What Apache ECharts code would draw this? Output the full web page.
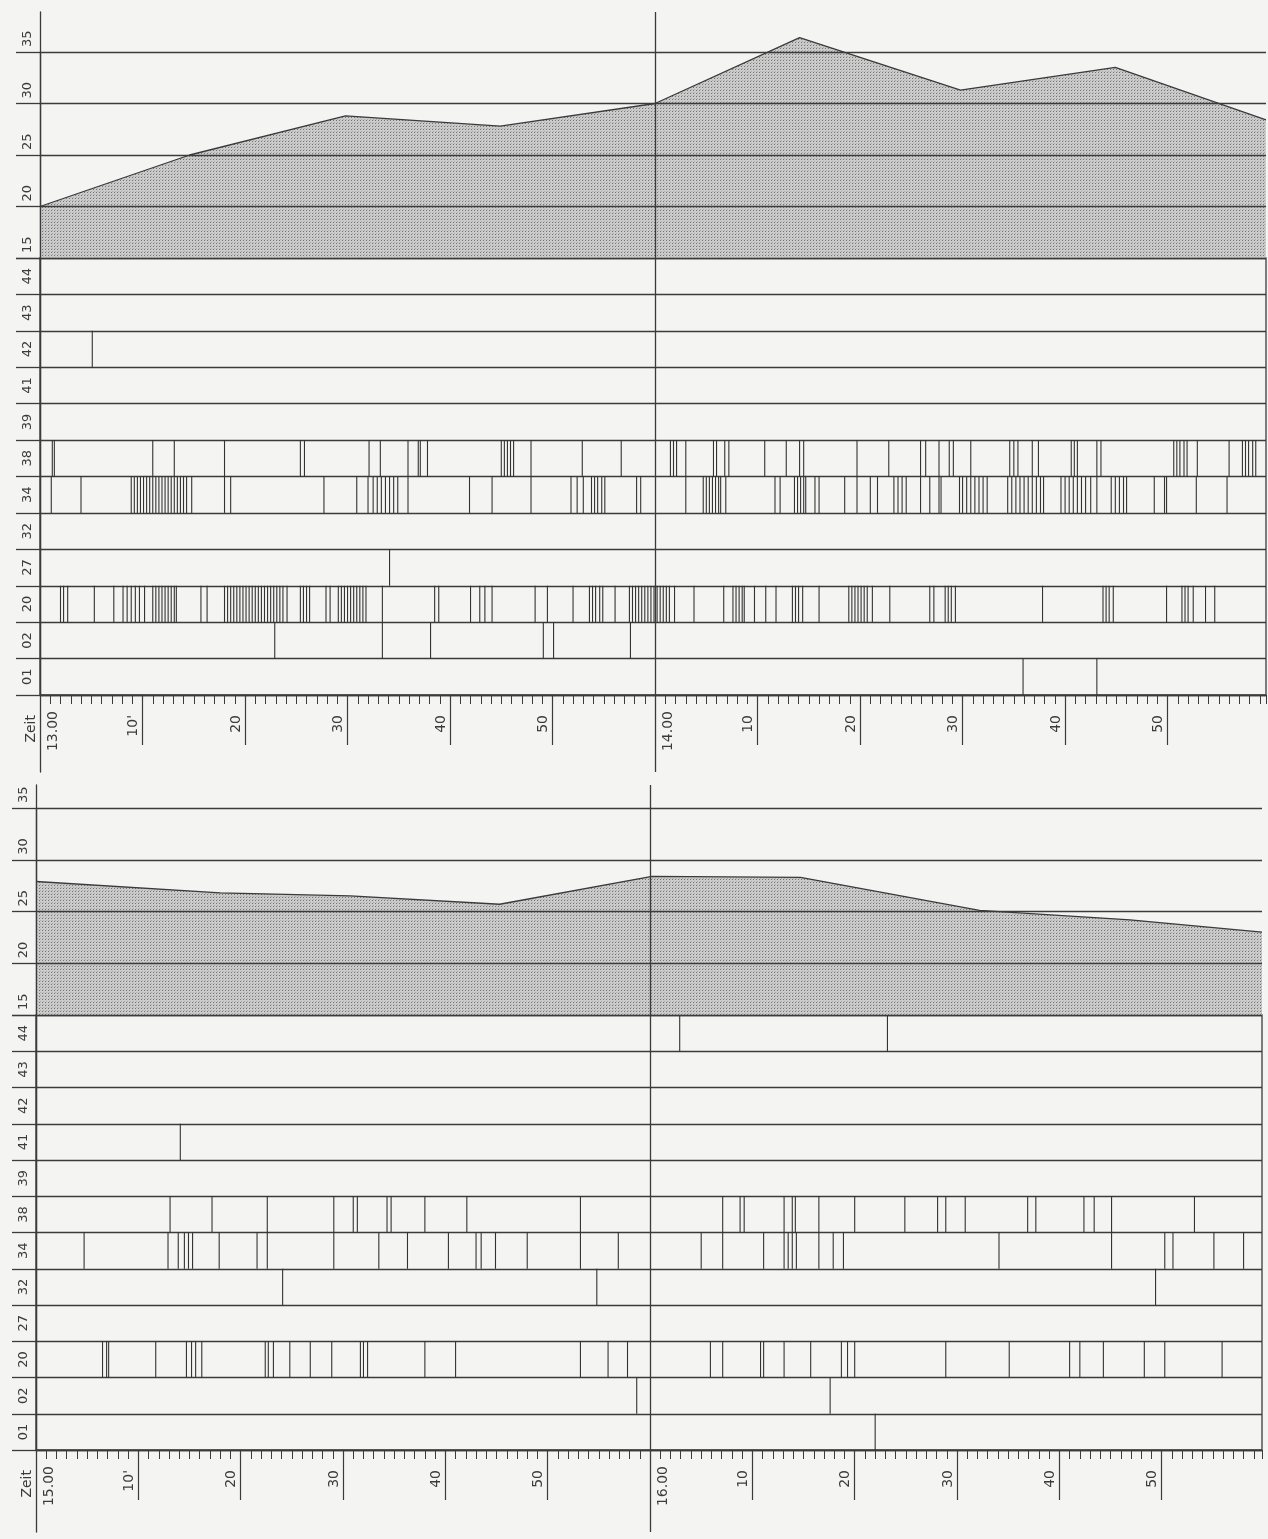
<!DOCTYPE html>
<html><head><meta charset="utf-8">
<script src="https://cdn.jsdelivr.net/npm/echarts@6.0.0/dist/echarts.min.js"></script>
<style>html,body{margin:0;padding:0;background:#f4f5f3;}#c{width:1268px;height:1539px;}</style>
</head><body><div id="c"></div>
<script>
// ---------- categories & tick labels ----------
const rowNames = ['01', '02', '20', '27', '32', '34', '38', '39', '41', '42', '43', '44'];
const tempTicks = [15, 20, 25, 30, 35];
const minuteValues = [10, 20, 30, 40, 50, 70, 80, 90, 100, 110];
const minuteLabels = ["10'", '20', '30', '40', '50', '10', '20', '30', '40', '50'];
const hourValues = [0, 60];
const topHourLabels = ['13.00', '14.00'];
const botHourLabels = ['15.00', '16.00'];
const zeitLabel = 'Zeit';

// ---------- temperature curves (minutes after panel start, value) ----------
const topTempTimes = [0, 14.6, 29.8, 44.9, 60, 74.1, 89.8, 104.9, 119.6];
const topTempValues = [20, 25, 28.8, 27.8, 30.0, 36.4, 31.3, 33.5, 28.4];
const botTempTimes = [0, 18.0, 30.7, 45.3, 60.2, 74.7, 92.2, 106.9, 119.8];
const botTempValues = [27.9, 26.8, 26.5, 25.7, 28.4, 28.3, 25.1, 24.2, 23.0];

// ---------- event marks, top panel (minutes after 13.00) ----------
const top44 = [];
const top43 = [];
const top42 = [5.1];
const top41 = [];
const top39 = [];
const top38 = [1.2, 1.4, 11.0, 13.1, 18.0, 25.4, 25.8, 32.1, 33.2, 35.9, 36.9, 37.1, 37.8, 45.0, 45.3, 45.6, 45.9, 46.2, 47.9, 52.9, 56.7,
  61.5, 61.8, 62.1, 63.0, 65.7, 66.0, 66.8, 67.2, 70.7, 72.8, 74.1, 74.5, 79.7, 82.8, 85.9, 86.4, 87.7, 88.7, 89.1, 90.8, 94.6, 95.0, 95.4,
  96.8, 97.4, 100.6, 100.9, 101.2, 103.1, 103.5, 110.6, 110.9, 111.2, 111.6, 111.9, 112.9, 116.0, 117.3, 117.6, 117.9, 118.3, 118.6];
const top34 = [1.1, 4.0, 8.9, 9.2, 9.5, 9.8, 10.1, 10.4, 10.7, 11.0, 11.3, 11.6, 11.9, 12.2, 12.5, 12.8, 13.1, 13.4, 13.7, 14.0, 14.3, 14.8,
  18.0, 18.6, 27.7, 30.9, 32.0, 32.5, 32.9, 33.3, 33.7, 34.1, 34.5, 34.9, 35.9, 41.9, 44.1, 47.9, 51.8, 52.4, 53.0, 53.8, 54.1, 54.4, 54.8,
  55.1, 58.2, 58.6, 63.0, 64.7, 65.0, 65.3, 65.6, 65.9, 66.2, 66.4, 66.9, 71.7, 72.2, 73.6, 73.9, 74.2, 74.5, 74.7, 75.6, 76.0, 78.5, 79.7,
  81.0, 81.7, 83.3, 83.7, 84.1, 84.5, 85.9, 86.8, 87.7, 87.9, 89.7, 90.0, 90.4, 90.8, 91.2, 91.6, 92.0, 92.4, 94.4, 94.8, 95.2, 95.6, 96.0,
  96.4, 96.8, 97.2, 97.6, 97.9, 99.6, 100.0, 100.4, 100.8, 101.2, 101.6, 102.0, 102.5, 103.1, 104.5, 104.9, 105.3, 105.7, 106.0, 108.7,
  109.7, 109.9, 112.8, 115.8];
const top32 = [];
const top27 = [34.1];
const top20 = [2.0, 2.3, 2.7, 5.3, 7.2, 8.1, 8.5, 8.9, 9.3, 9.7, 10.2, 11.0, 11.3, 11.6, 11.9, 12.2, 12.5, 12.8, 13.1, 13.3, 15.7, 16.3,
  18.0, 18.3, 18.6, 18.9, 19.2, 19.5, 19.8, 20.1, 20.4, 20.7, 21.0, 21.3, 21.6, 21.9, 22.2, 22.5, 22.8, 23.1, 23.4, 23.7, 24.1, 25.4, 25.7,
  26.0, 26.3, 27.9, 28.3, 29.1, 29.4, 29.7, 30.0, 30.3, 30.6, 30.9, 31.2, 31.5, 31.8, 33.4, 38.5, 38.9, 42.0, 42.9, 43.4, 44.1, 48.3, 49.5,
  52.0, 53.6, 53.9, 54.2, 54.6, 54.9, 56.1, 57.5, 57.8, 58.1, 58.4, 58.7, 59.0, 59.3, 59.6, 59.9, 60.2, 60.5, 60.8, 61.1, 61.4, 61.9, 63.8,
  66.7, 67.6, 67.9, 68.2, 68.5, 68.7, 69.7, 70.8, 71.8, 73.4, 73.7, 74.0, 74.4, 76.0, 78.9, 79.2, 79.5, 79.8, 80.1, 80.4, 80.7, 81.2, 82.9,
  86.8, 87.2, 88.3, 88.6, 88.9, 89.3, 97.8, 103.7, 104.0, 104.3, 104.7, 109.9, 111.4, 111.7, 112.0, 112.5, 113.7, 114.6];
const top02 = [22.9, 33.4, 38.1, 49.1, 50.1, 57.6];
const top01 = [95.9, 103.1];

// ---------- event marks, bottom panel (minutes after 15.00) ----------
const bot44 = [62.9, 83.2];
const bot43 = [];
const bot42 = [];
const bot41 = [14.1];
const bot39 = [];
const bot38 = [13.1, 17.2, 22.6, 29.1, 31.0, 31.4, 34.3, 34.7, 38.0, 42.1, 53.2, 67.1, 68.8, 69.2, 73.1, 73.9, 74.2, 76.5, 80.0, 84.9,
  88.1, 88.9, 90.8, 96.9, 97.7, 102.4, 103.4, 105.1, 113.2];
const bot34 = [4.7, 12.9, 13.9, 14.5, 14.9, 15.3, 17.9, 21.6, 22.6, 29.1, 33.5, 36.3, 40.3, 43.0, 43.5, 44.9, 48.0, 53.2, 56.9, 65.0,
  67.1, 71.1, 73.1, 73.5, 73.9, 74.3, 76.5, 77.9, 78.9, 94.1, 105.1, 110.3, 111.1, 115.1, 118.0];
const bot32 = [24.1, 54.8, 109.4];
const bot27 = [];
const bot20 = [6.5, 6.9, 7.1, 11.7, 14.7, 15.2, 15.6, 16.2, 22.4, 22.7, 23.2, 24.8, 26.8, 28.9, 31.7, 32.0, 32.4, 38.0, 41.0, 53.2, 55.9,
  57.8, 65.9, 67.1, 70.8, 71.1, 73.1, 75.7, 78.7, 79.3, 80.0, 88.9, 95.1, 101.0, 102.0, 104.3, 108.3, 110.3, 115.9];
const bot02 = [58.7, 77.6];
const bot01 = [82.0];

const topRows = [top01, top02, top20, top27, top32, top34, top38, top39, top41, top42, top43, top44];
const botRows = [bot01, bot02, bot20, bot27, bot32, bot34, bot38, bot39, bot41, bot42, bot43, bot44];

// ---------- drawing ----------
const C = '#3b3b3b';
const FONT = 'DejaVu Sans';
const pat = document.createElement('canvas');
pat.width = 3; pat.height = 3;
const pctx = pat.getContext('2d');
pctx.fillStyle = '#cbcbcb'; pctx.fillRect(0, 0, 3, 3);
pctx.fillStyle = '#747474'; pctx.fillRect(0, 0, 1, 1);
pctx.fillStyle = '#aaaaaa'; pctx.fillRect(1, 2, 1, 1);

const grid = [], xAxis = [], yAxis = [], series = [];

function addPanel(cfg) {
  const g0 = grid.length, x0 = xAxis.length, y0 = yAxis.length;
  grid.push({left: cfg.left, width: cfg.width, top: cfg.tempTop, height: cfg.tempH});
  grid.push({left: cfg.left, width: cfg.width, top: cfg.rowsTop, height: cfg.rowsH, show: true,
    borderColor: C, borderWidth: 1.3, backgroundColor: 'transparent'});
  grid.push({left: cfg.left, width: cfg.width, top: cfg.ovTop, height: cfg.ovH});

  xAxis.push({type: 'value', gridIndex: g0, min: 0, max: cfg.max, show: false});
  xAxis.push({type: 'value', gridIndex: g0 + 1, min: 0, max: cfg.max, interval: 1, position: 'bottom',
    axisLine: {show: true, lineStyle: {color: C, width: 1.3}},
    axisTick: {show: true, length: 9, lineStyle: {color: C, width: 1}},
    axisLabel: {show: false}, splitLine: {show: false}});
  xAxis.push({type: 'value', gridIndex: g0 + 1, min: 0, max: cfg.max, interval: 10, position: 'bottom',
    axisLine: {show: false},
    axisTick: {show: true, length: 50, customValues: minuteValues, lineStyle: {color: C, width: 1.2}},
    axisLabel: {show: true, customValues: [0].concat(minuteValues), rotate: 90, verticalAlign: 'bottom', margin: 20,
      padding: [0, 0, 2, 0], fontSize: 14, fontFamily: FONT, color: C,
      formatter: v => { const i = minuteValues.indexOf(v); return i >= 0 ? minuteLabels[i] : (v === 0 ? zeitLabel : ''); }},
    splitLine: {show: false}});
  xAxis.push({type: 'value', gridIndex: g0 + 1, min: 0, max: cfg.max, interval: 60, position: 'bottom',
    axisLine: {show: false}, axisTick: {show: false},
    axisLabel: {show: true, customValues: hourValues, rotate: 90, verticalAlign: 'top', margin: 16,
      padding: [6, 0, 0, 0], fontSize: 14, fontFamily: FONT, color: C,
      formatter: v => { const i = hourValues.indexOf(v); return i >= 0 ? cfg.hourLabels[i] : ''; }},
    splitLine: {show: false}});
  xAxis.push({type: 'value', gridIndex: g0 + 2, min: 0, max: cfg.max, show: false});

  yAxis.push({type: 'value', gridIndex: g0, min: 15, max: 35, interval: 5, z: 5,
    axisLine: {show: true, lineStyle: {color: C, width: 1.3}},
    axisTick: {show: true, length: 24, customValues: tempTicks, lineStyle: {color: C, width: 1.3}},
    splitLine: {show: true, lineStyle: {color: C, width: 1.3}},
    axisLabel: {show: true, customValues: tempTicks, rotate: 90, align: 'left', margin: 6, padding: [0, 0, 0, 5],
      fontSize: 13, fontFamily: FONT, color: C}});
  yAxis.push({type: 'category', gridIndex: g0 + 1, data: rowNames, boundaryGap: true,
    axisLine: {show: true, lineStyle: {color: C, width: 1.3}},
    axisTick: {show: true, length: 24, lineStyle: {color: C, width: 1.3}},
    splitLine: {show: true, lineStyle: {color: C, width: 1.3}},
    axisLabel: {show: true, rotate: 90, margin: 6, fontSize: 13, fontFamily: FONT, color: C}});
  yAxis.push({type: 'value', gridIndex: g0 + 2, min: 0, max: 1,
    axisLine: {show: true, lineStyle: {color: C, width: 1.3}},
    axisTick: {show: false}, axisLabel: {show: false}, splitLine: {show: false}});

  series.push({type: 'line', xAxisIndex: x0, yAxisIndex: y0, clip: false, symbol: 'none', z: 2,
    data: cfg.tempTimes.map((t, i) => [t, cfg.tempValues[i]]),
    lineStyle: {color: C, width: 1.3},
    areaStyle: {color: {image: pat, repeat: 'repeat'}, opacity: 1}});

  const ev = [];
  cfg.rows.forEach((arr, r) => arr.forEach(t => ev.push([t, r])));
  series.push({type: 'custom', xAxisIndex: x0 + 1, yAxisIndex: y0 + 1, z: 3, data: ev, encode: {x: 0, y: 1},
    renderItem: (params, api) => {
      const p = api.coord([api.value(0), api.value(1)]);
      const h = api.size([0, 1])[1];
      return {type: 'line', shape: {x1: p[0], y1: p[1] - h / 2, x2: p[0], y2: p[1] + h / 2},
        style: {stroke: '#333', lineWidth: 1.1}};
    }});

  series.push({type: 'line', xAxisIndex: x0 + 4, yAxisIndex: y0 + 2, data: [[60, 0.5]], symbol: 'none',
    markLine: {symbol: 'none', silent: true, label: {show: false}, animation: false,
      lineStyle: {color: C, width: 1.3, type: 'solid'},
      data: [{xAxis: hourValues[1]}]}});
}

addPanel({left: 40, width: 1226, max: 119.6, tempTop: 52, tempH: 206, rowsTop: 258, rowsH: 437, ovTop: 12, ovH: 760,
  tempTimes: topTempTimes, tempValues: topTempValues, rows: topRows, hourLabels: topHourLabels});
addPanel({left: 36, width: 1226, max: 119.8, tempTop: 808, tempH: 207, rowsTop: 1015, rowsH: 435, ovTop: 785, ovH: 747,
  tempTimes: botTempTimes, tempValues: botTempValues, rows: botRows, hourLabels: botHourLabels});

const chart = echarts.init(document.getElementById('c'), null, {renderer: 'canvas'});
chart.setOption({backgroundColor: '#f4f5f3', animation: false, grid, xAxis, yAxis, series});
</script>
</body></html>
